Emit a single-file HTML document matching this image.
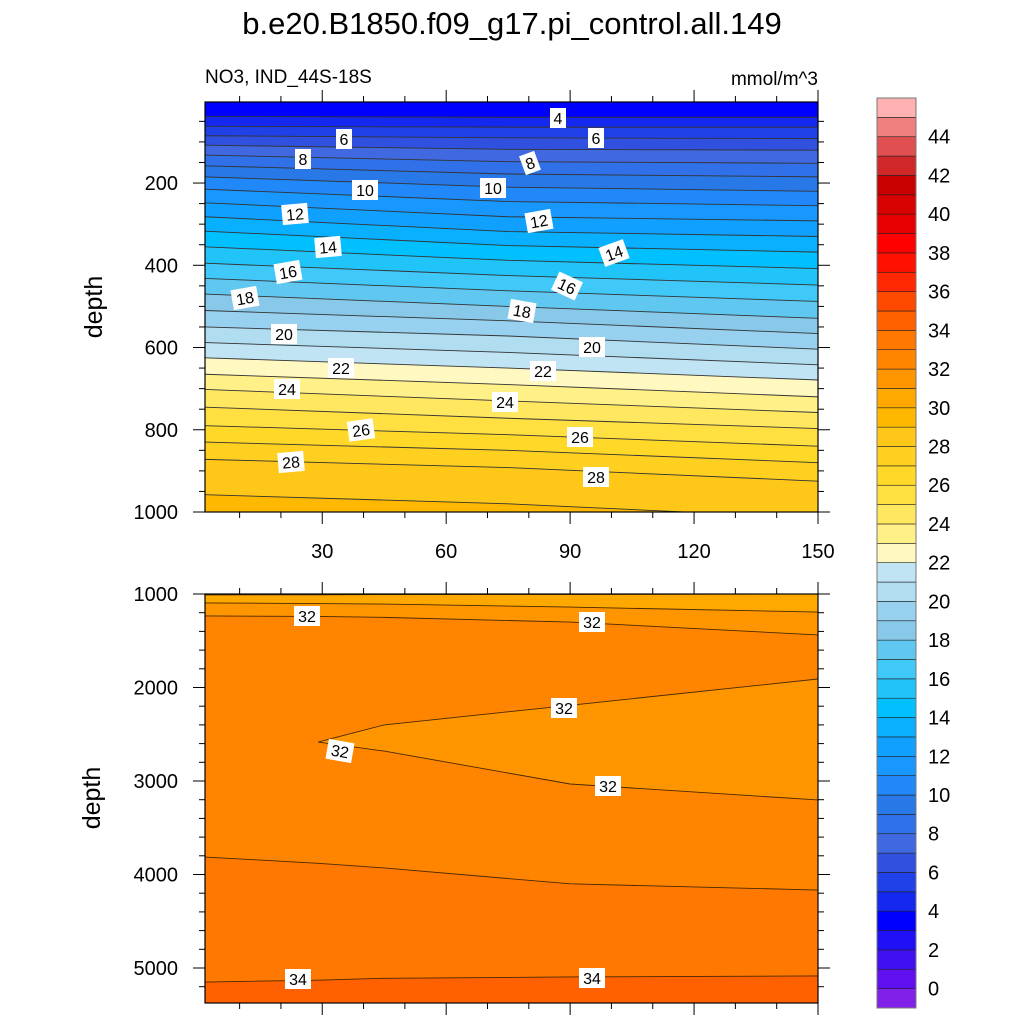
<!DOCTYPE html>
<html><head><meta charset="utf-8"><style>
body{margin:0;background:#fff;}
svg{display:block;font-family:"Liberation Sans",sans-serif;}
</style></head><body>
<svg id="chart" width="1024" height="1024" viewBox="0 0 1024 1024" xmlns="http://www.w3.org/2000/svg">
<text x="512" y="34" text-anchor="middle" font-size="31">b.e20.B1850.f09_g17.pi_control.all.149</text>
<text x="205" y="83" font-size="19">NO3, IND_44S-18S</text>
<text x="818" y="85" font-size="19" text-anchor="end">mmol/m^3</text>
<text transform="translate(102,307) rotate(-90)" font-size="25" text-anchor="middle">depth</text>
<text transform="translate(100,798) rotate(-90)" font-size="25" text-anchor="middle">depth</text>
<g id="topPanel"></g>
<g id="botPanel"></g>
<g id="cbar"></g>
</svg>
<script>
// ---- data ----
const levelColors = ["#8020e8","#6010f0","#4010f0","#2010f8","#0000ff","#1428f0","#2040e8","#3050e0","#4068e0","#3070e8","#2878e8","#2088f8","#1898ff","#10a0ff","#08b0ff","#00c0ff","#20c4f8","#40c8f8","#60c8f0","#88c8e8","#98d0f0","#b0ddf0","#c0e4f4","#fff8c0","#fff088","#ffe860","#ffe040","#ffd828","#ffd020","#ffc818","#ffb800","#ffa800","#ff9600","#ff8400","#ff7800","#ff6000","#ff4800","#ff2800","#ff1000","#ff0000","#e80000","#d80000","#c80000","#d02828","#e05050","#f08080","#ffb0b0"];
const cbarLabels = [0,2,4,6,8,10,12,14,16,18,20,22,24,26,28,30,32,34,36,38,40,42,44];
const topX = [2, 75, 150];
const topLevels = [4,5,6,7,8,9,10,11,12,13,14,15,16,17,18,19,20,21,22,23,24,25,26,27,28,29];
const topDepths = [
 [38,40,40],[62,64,64],[85,90,92],[108,118,120],[132,148,152],[158,178,185],[185,210,220],
 [215,245,255],[248,282,292],[282,318,330],[317,352,368],[355,388,408],[395,425,448],
 [432,462,488],[470,500,529],[510,535,566],[550,572,604],[588,612,642],[625,650,679],
 [665,690,720],[702,730,758],[745,772,797],[790,812,840],[830,850,880],[872,892,925],[958,980,1015]];
const topXTicks = [30,60,90,120,150];
const topYTicks = [200,400,600,800,1000];
const botX = [2, 29, 45, 90, 150];
const botLevels = [30,31,32,33,34];
const botDepths = [
 [1010,1008,1006,1004,1000],[1096,1102,1108,1140,1193],[1235,1240,1250,1300,1438],
 [3813,3880,3930,4100,4166],[5150,5130,5110,5096,5085]];
const wedgeUpperX = [29,45,90,150], wedgeUpperD = [2583,2400,2190,1909];
const wedgeLowerX = [29,45,90,150], wedgeLowerD = [2583,2680,3032,3203];
const botYTicks = [1000,2000,3000,4000,5000];
const topLabels = [["4",558,118,0],["6",344,139,0],["6",596,138,0],["8",303,159,0],["8",530,163,-20],["10",365,190,0],["10",493,188,0],["12",295,214,-5],["12",539,221,-10],["14",328,247,-5],["14",614,253,-20],["16",288,272,-10],["16",567,286,25],["18",245,298,-10],["18",522,311,10],["20",284,334,0],["20",592,347,0],["22",341,368,0],["22",543,371,0],["24",287,389,0],["24",505,402,0],["26",361,430,-8],["26",580,437,0],["28",291,462,-5],["28",596,477,0]];
const botLabels = [["32",307,616,0],["32",592,622,0],["32",564,708,0],["32",340,751,10],["32",608,786,0],["34",298,979,0],["34",592,978,0]];

const NS="http://www.w3.org/2000/svg";
function el(t,a,p){const e=document.createElementNS(NS,t);for(const k in a)e.setAttribute(k,a[k]);p.appendChild(e);return e;}
const L=205,R=818;
const xs=v=>198.3+v*(R-198.3)/150;
const tT=102,tB=512, ty=d=>100.8+d*0.4112;
const bT=594,bB=1003, by=d=>594+(d-1000)*0.0935;
function line(xarr,darr,yf){return xarr.map((x,i)=>[xs(x),yf(darr[i])]);}
function ext(pts){const a=pts.slice();a[0]=[L,a[0][1]];a[a.length-1]=[R,a[a.length-1][1]];return a;}

// ---- top panel ----
const topG=document.getElementById('topPanel');
let cp=el('clipPath',{id:'ct'},topG);el('rect',{x:L,y:tT,width:R-L,height:tB-tT},cp);
let tg=el('g',{'clip-path':'url(#ct)'},topG);
let bg=el('rect',{x:L,y:tT,width:R-L,height:tB-tT,fill:levelColors[4]},tg);

const tLines=topDepths.map(d=>ext(line(topX,d,ty)));
tLines.forEach((pts,i)=>{
  const lv=topLevels[i];
  const poly=pts.map(p=>p.join(',')).join(' ')+` ${R},${tB+5} ${L},${tB+5}`;
  const p=el('polygon',{points:poly,fill:levelColors[lv+1]},tg);
  
  
});
tLines.forEach((pts,i)=>{
  const p=el('polyline',{points:pts.map(p=>p.join(',')).join(' '),fill:'none',stroke:'#333','stroke-width':0.9},tg);
  
  
});
// ---- bottom panel ----
const botG=document.getElementById('botPanel');
cp=el('clipPath',{id:'cb'},botG);el('rect',{x:L,y:bT,width:R-L,height:bB-bT},cp);
let bgp=el('g',{'clip-path':'url(#cb)'},botG);
let bb=el('rect',{x:L,y:bT,width:R-L,height:bB-bT,fill:levelColors[30]},bgp);

const bLines=botDepths.map(d=>ext(line(botX,d,by)));
bLines.forEach((pts,i)=>{
  const lv=botLevels[i];
  const poly=pts.map(p=>p.join(',')).join(' ')+` ${R},${bB+5} ${L},${bB+5}`;
  const p=el('polygon',{points:poly,fill:levelColors[lv+1]},bgp);
  
  
});
const wu=line(wedgeUpperX,wedgeUpperD,by), wl=line(wedgeLowerX,wedgeLowerD,by);
wu[wu.length-1][0]=R; wl[wl.length-1][0]=R;
const wp=el('polygon',{points:wu.concat(wl.slice().reverse()).map(p=>p.join(',')).join(' '),fill:levelColors[32]},bgp);


bLines.concat([wu,wl]).forEach((pts)=>{
  const p=el('polyline',{points:pts.map(p=>p.join(',')).join(' '),fill:'none',stroke:'#4a2a00','stroke-width':0.9},bgp);
  
  
});
// labels
function lab(arr,parent){arr.forEach(a=>{
  const g=el('g',{transform:`translate(${a[1]},${a[2]}) rotate(${a[3]})`},parent);
  
  
  const w=a[0].length*10+6;
  el('rect',{x:-w/2,y:-10,width:w,height:20,fill:'#fff'},g);
  const t=el('text',{x:0,y:6,'text-anchor':'middle','font-size':16},g);t.textContent=a[0];
});}
lab(topLabels,topG);lab(botLabels,botG);
// frames & ticks
function frame(parent,T,B){el('rect',{x:L,y:T,width:R-L,height:B-T,fill:'none',stroke:'#000','stroke-width':1.2},parent);
  for(let v=10;v<=150;v+=10){const x=xs(v),big=v%30==0,len=big?12:6;
    el('line',{x1:x,x2:x,y1:B,y2:B+len,stroke:'#000','stroke-width':1},parent);
    el('line',{x1:x,x2:x,y1:T,y2:T-len,stroke:'#000','stroke-width':1},parent);}
}
frame(topG,tT,tB);frame(botG,bT,bB);
for(let d=50;d<=1000;d+=50){const y=ty(d);if(y<tT)continue;const big=d%200==0,len=big?12:6;
  el('line',{x1:L,x2:L-len,y1:y,y2:y,stroke:'#000'},topG);el('line',{x1:R,x2:R+len,y1:y,y2:y,stroke:'#000'},topG);}
for(let d=1000;d<=5400;d+=200){const y=by(d);if(y>bB)continue;const big=d%1000==0,len=big?12:6;
  el('line',{x1:L,x2:L-len,y1:y,y2:y,stroke:'#000'},botG);el('line',{x1:R,x2:R+len,y1:y,y2:y,stroke:'#000'},botG);}
topYTicks.forEach(d=>{const t=el('text',{x:178,y:ty(d)+7,'text-anchor':'end','font-size':20},topG);t.textContent=d;
  });
topXTicks.forEach(v=>{const t=el('text',{x:xs(v),y:558,'text-anchor':'middle','font-size':20},topG);t.textContent=v;
  });
botYTicks.forEach(d=>{const t=el('text',{x:178,y:by(d)+7,'text-anchor':'end','font-size':20},botG);t.textContent=d;
  });
// colorbar
const cb=document.getElementById('cbar');
const cT=98,cB=1008,n=levelColors.length,h=(cB-cT)/n;
levelColors.forEach((c,i)=>{const r=el('rect',{x:877,y:cB-(i+1)*h,width:39,height:h,fill:c,stroke:'#222','stroke-width':0.6},cb);
  });
el('rect',{x:877,y:cT,width:39,height:cB-cT,fill:'none',stroke:'#777','stroke-width':1},cb);
cbarLabels.forEach(v=>{const y=cB-(v+1)*h;const t=el('text',{x:928,y:y+7,'font-size':20},cb);t.textContent=v;
  });
</script>
</body></html>
